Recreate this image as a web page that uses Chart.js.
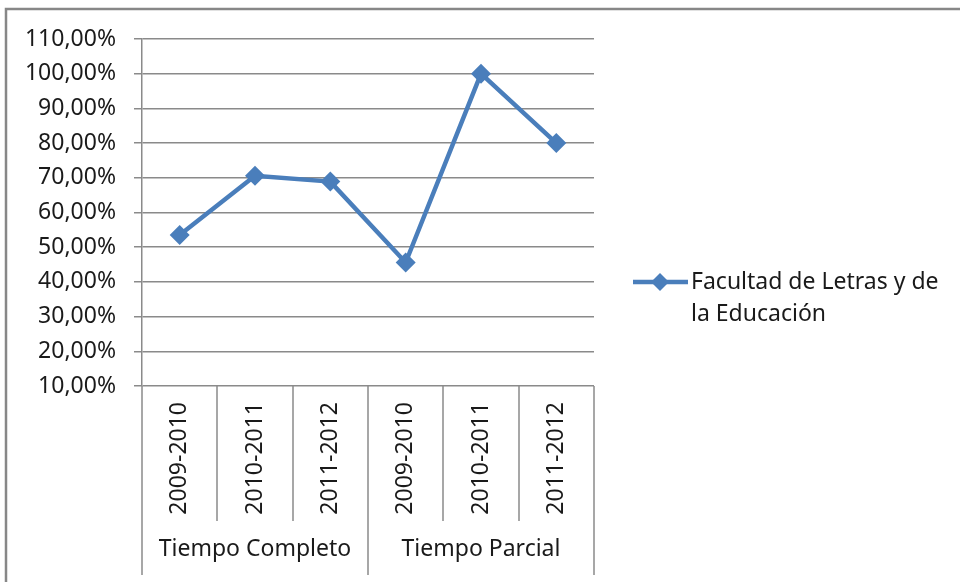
<!DOCTYPE html>
<html>
<head>
<meta charset="utf-8">
<script src="https://cdn.jsdelivr.net/npm/chart.js@4.4.0/dist/chart.umd.min.js"></script>
<style>
  html, body { margin: 0; padding: 0; background: #fff; }
  #wrap { position: relative; width: 960px; height: 582px; }
</style>
</head>
<body>
<div id="wrap"><canvas id="chart" width="960" height="582"></canvas></div>
<script>
// data
const years = ['2009-2010', '2010-2011', '2011-2012', '2009-2010', '2010-2011', '2011-2012'];
const groups = ['Tiempo Completo', 'Tiempo Parcial'];
const groupSizes = [3, 3];
const values = [53.5, 70.6, 68.9, 45.6, 100, 80];
const seriesLabel = 'Facultad de Letras y de la Educación';
const legendLines = ['Facultad de Letras y de', 'la Educación'];
const yMin = 10, yMax = 110, yStep = 10;

const lineColor = '#4a7ebb';
const gridColor = '#8a8a8a';
const textColor = '#1a1a1a';
const fontFamily = '"Noto Sans", sans-serif';
const fontSize = 23;

Chart.defaults.font.family = fontFamily;
Chart.defaults.font.size = fontSize;
Chart.defaults.color = textColor;

const fmt = v => v.toFixed(2).replace('.', ',') + '%';

// outer frame, two-level category axis and legend
const decorations = {
  id: 'decorations',
  beforeDraw(chart) {
    const ctx = chart.ctx;
    ctx.save();
    ctx.strokeStyle = '#878787';
    ctx.lineWidth = 2.5;
    ctx.beginPath();
    ctx.moveTo(6, 600);
    ctx.lineTo(6, 9);
    ctx.lineTo(970, 9);
    ctx.stroke();
    ctx.restore();
  },
  afterDraw(chart) {
    const { ctx, chartArea: a } = chart;
    const n = years.length;
    const w = (a.right - a.left) / n;
    const edges = [0];
    groupSizes.reduce((acc, s) => { edges.push(acc + s); return acc + s; }, 0);

    ctx.save();
    ctx.strokeStyle = gridColor;
    ctx.lineWidth = 1.5;
    for (let i = 0; i <= n; i++) {
      const px = Math.round(a.left + i * w);
      const isEdge = edges.includes(i);
      ctx.beginPath();
      ctx.moveTo(px, a.bottom);
      ctx.lineTo(px, a.bottom + (isEdge ? 189 : 135));
      ctx.stroke();
    }

    ctx.fillStyle = textColor;
    ctx.font = fontSize + 'px ' + fontFamily;
    ctx.textAlign = 'center';
    ctx.textBaseline = 'middle';
    groups.forEach((g, gi) => {
      const cx = a.left + (edges[gi] + edges[gi + 1]) / 2 * w;
      ctx.fillText(g, cx, a.bottom + 163);
    });

    // legend
    const lx = a.right + 39, ly = 282;
    ctx.strokeStyle = lineColor;
    ctx.lineWidth = 4.5;
    ctx.beginPath();
    ctx.moveTo(lx, ly);
    ctx.lineTo(lx + 55, ly);
    ctx.stroke();
    ctx.fillStyle = lineColor;
    ctx.beginPath();
    const mx = lx + 27, r = 9;
    ctx.moveTo(mx, ly - r);
    ctx.lineTo(mx + r, ly);
    ctx.lineTo(mx, ly + r);
    ctx.lineTo(mx - r, ly);
    ctx.closePath();
    ctx.fill();

    ctx.fillStyle = textColor;
    ctx.textAlign = 'left';
    legendLines.forEach((t, i) => ctx.fillText(t, lx + 58, ly + i * 32));
    ctx.restore();
  }
};

new Chart(document.getElementById('chart'), {
  type: 'line',
  data: {
    labels: years,
    datasets: [{
      label: seriesLabel,
      data: values,
      borderColor: lineColor,
      backgroundColor: lineColor,
      borderWidth: 4.5,
      pointStyle: 'rectRot',
      pointRadius: 10,
      pointBorderWidth: 0,
      pointBackgroundColor: lineColor,
      tension: 0
    }]
  },
  options: {
    responsive: false,
    animation: false,
    layout: { padding: { top: 39, right: 366, bottom: 0, left: 0 } },
    plugins: {
      legend: { display: false },
      tooltip: { enabled: false }
    },
    scales: {
      x: {
        offset: true,
        grid: { display: false, drawTicks: false },
        border: { display: false },
        ticks: { minRotation: 90, maxRotation: 90, padding: 16, autoSkip: false },
        afterFit(scale) { scale.height = 196; }
      },
      y: {
        min: yMin,
        max: yMax,
        grid: { color: gridColor, lineWidth: 1.5, tickLength: 8 },
        border: { color: gridColor, width: 1.5 },
        ticks: { stepSize: yStep, padding: 18, callback: v => fmt(v) },
        afterFit(scale) { scale.width = 142; }
      }
    }
  },
  plugins: [decorations]
});
</script>
</body>
</html>
